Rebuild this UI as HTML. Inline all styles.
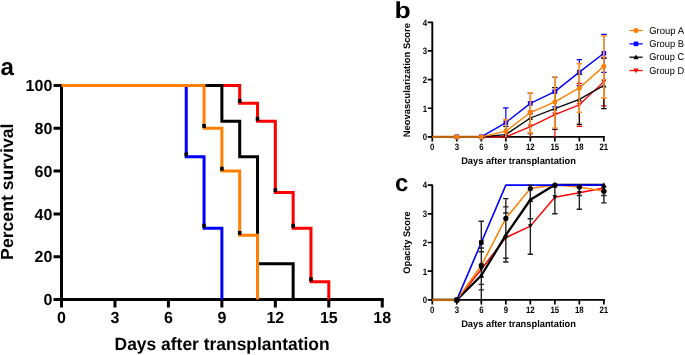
<!DOCTYPE html>
<html><head><meta charset="utf-8"><style>
html,body{margin:0;padding:0;background:#fff;width:685px;height:355px;overflow:hidden}
svg{display:block;will-change:transform}
text{font-family:"Liberation Sans", sans-serif;fill:#000;text-rendering:geometricPrecision}
</style></head><body>
<svg width="685" height="355" viewBox="0 0 685 355">
<text x="0.6" y="75" font-size="24.2" font-weight="bold">a</text>
<text transform="translate(13.2,191.75) rotate(-90)" text-anchor="middle" font-size="17.5" font-weight="bold" textLength="136.3" lengthAdjust="spacingAndGlyphs">Percent survival</text>
<text x="222.1" y="349.8" text-anchor="middle" font-size="17.8" font-weight="bold" textLength="215" lengthAdjust="spacingAndGlyphs">Days after transplantation</text>
<path d="M61.5 84V299.5H383.76" fill="none" stroke="#000" stroke-width="3"/>
<text x="52.3" y="305.2" text-anchor="end" font-size="16" font-weight="bold">0</text>
<text x="52.3" y="262.4" text-anchor="end" font-size="16" font-weight="bold">20</text>
<text x="52.3" y="219.6" text-anchor="end" font-size="16" font-weight="bold">40</text>
<text x="52.3" y="176.8" text-anchor="end" font-size="16" font-weight="bold">60</text>
<text x="52.3" y="134" text-anchor="end" font-size="16" font-weight="bold">80</text>
<text x="52.3" y="91.2" text-anchor="end" font-size="16" font-weight="bold">100</text>
<text x="61.5" y="323.1" text-anchor="middle" font-size="16" font-weight="bold">0</text>
<text x="114.96" y="323.1" text-anchor="middle" font-size="16" font-weight="bold">3</text>
<text x="168.42" y="323.1" text-anchor="middle" font-size="16" font-weight="bold">6</text>
<text x="221.88" y="323.1" text-anchor="middle" font-size="16" font-weight="bold">9</text>
<text x="275.34" y="323.1" text-anchor="middle" font-size="16" font-weight="bold">12</text>
<text x="328.8" y="323.1" text-anchor="middle" font-size="16" font-weight="bold">15</text>
<text x="382.26" y="323.1" text-anchor="middle" font-size="16" font-weight="bold">18</text>
<path d="M53.5 299.5H61.5M53.5 256.7H61.5M53.5 213.9H61.5M53.5 171.1H61.5M53.5 128.3H61.5M53.5 85.5H61.5M61.5 299.5V307.5M114.96 299.5V307.5M168.42 299.5V307.5M221.88 299.5V307.5M275.34 299.5V307.5M328.8 299.5V307.5M382.26 299.5V307.5" stroke="#000" stroke-width="3"/>
<path d="M61.5 85.5H239.7V103.33H257.52V121.17H275.34V192.5H293.16V228.17H310.98V281.67H328.8V299.5" fill="none" stroke="#ff0000" stroke-width="3" stroke-linejoin="miter"/><rect x="237.9" y="98.93" width="3.6" height="4" fill="#000"/><rect x="255.72" y="116.77" width="3.6" height="4" fill="#000"/><rect x="273.54" y="188.1" width="3.6" height="4" fill="#000"/><rect x="291.36" y="223.77" width="3.6" height="4" fill="#000"/><rect x="309.18" y="277.27" width="3.6" height="4" fill="#000"/>
<path d="M61.5 85.5H221.88V121.17H239.7V156.83H257.52V263.83H293.16V299.5" fill="none" stroke="#000" stroke-width="3" stroke-linejoin="miter"/>
<path d="M61.5 85.5H186.24V156.83H204.06V228.17H221.88V299.5" fill="none" stroke="#0000ff" stroke-width="3" stroke-linejoin="miter"/><rect x="184.44" y="152.43" width="3.6" height="4" fill="#000"/><rect x="202.26" y="223.77" width="3.6" height="4" fill="#000"/>
<path d="M61.5 85.5H204.06V128.3H221.88V171.1H239.7V235.3H257.52V299.5" fill="none" stroke="#ff8000" stroke-width="3" stroke-linejoin="miter"/><rect x="202.26" y="123.9" width="3.6" height="4" fill="#000"/><rect x="220.08" y="166.7" width="3.6" height="4" fill="#000"/><rect x="237.9" y="230.9" width="3.6" height="4" fill="#000"/>
<text transform="translate(394.6,18) scale(1.15,1)" font-size="23" font-weight="bold">b</text>
<text transform="translate(409.5,80.1) rotate(-90)" text-anchor="middle" font-size="9.5" font-weight="bold" textLength="114.1" lengthAdjust="spacingAndGlyphs">Neovascularization Score</text>
<text x="518.5" y="163.8" text-anchor="middle" font-size="9.6" font-weight="bold" textLength="114.7" lengthAdjust="spacingAndGlyphs">Days after transplantation</text>
<path d="M432.3 21.7V136.9H604.82" fill="none" stroke="#000" stroke-width="1.9"/><text transform="translate(427.1,140.2) scale(0.85,1)" text-anchor="end" font-size="9.2" font-weight="bold">0</text><text transform="translate(427.1,111.55) scale(0.85,1)" text-anchor="end" font-size="9.2" font-weight="bold">1</text><text transform="translate(427.1,82.9) scale(0.85,1)" text-anchor="end" font-size="9.2" font-weight="bold">2</text><text transform="translate(427.1,54.25) scale(0.85,1)" text-anchor="end" font-size="9.2" font-weight="bold">3</text><text transform="translate(427.1,25.6) scale(0.85,1)" text-anchor="end" font-size="9.2" font-weight="bold">4</text><text transform="translate(432.3,149.9) scale(0.85,1)" text-anchor="middle" font-size="9.2" font-weight="bold">0</text><text transform="translate(456.81,149.9) scale(0.85,1)" text-anchor="middle" font-size="9.2" font-weight="bold">3</text><text transform="translate(481.32,149.9) scale(0.85,1)" text-anchor="middle" font-size="9.2" font-weight="bold">6</text><text transform="translate(505.83,149.9) scale(0.85,1)" text-anchor="middle" font-size="9.2" font-weight="bold">9</text><text transform="translate(530.34,149.9) scale(0.85,1)" text-anchor="middle" font-size="9.2" font-weight="bold">12</text><text transform="translate(554.85,149.9) scale(0.85,1)" text-anchor="middle" font-size="9.2" font-weight="bold">15</text><text transform="translate(579.36,149.9) scale(0.85,1)" text-anchor="middle" font-size="9.2" font-weight="bold">18</text><text transform="translate(603.87,149.9) scale(0.85,1)" text-anchor="middle" font-size="9.2" font-weight="bold">21</text><path d="M427.7 136.9H432.3M427.7 108.25H432.3M427.7 79.6H432.3M427.7 50.95H432.3M427.7 22.3H432.3M432.3 136.9V141.5M456.81 136.9V141.5M481.32 136.9V141.5M505.83 136.9V141.5M530.34 136.9V141.5M554.85 136.9V141.5M579.36 136.9V141.5M603.87 136.9V141.5" stroke="#000" stroke-width="1.7"/>
<path d="M530.34 111.12V136.9M527.64 111.12h5.4" stroke="#ff0000" stroke-width="1.2" fill="none" opacity="1.0"/>
<path d="M554.85 91.06V136.9M552.15 91.06h5.4" stroke="#ff0000" stroke-width="1.2" fill="none" opacity="1.0"/>
<path d="M579.36 83.32V126.3M576.66 83.32h5.4M576.66 126.3h5.4" stroke="#ff0000" stroke-width="1.2" fill="none" opacity="1.0"/>
<path d="M603.87 57.25V105.96M601.17 57.25h5.4M601.17 105.96h5.4" stroke="#ff0000" stroke-width="1.2" fill="none" opacity="1.0"/>
<polyline points="432.3,136.9 456.81,136.9 481.32,136.9 505.83,136.9 530.34,126.59 554.85,114.55 579.36,104.81 603.87,81.61" fill="none" stroke="#ff0000" stroke-width="1.3" stroke-linejoin="round"/>
<path d="M456.81 139.5L459.41 134.82L454.21 134.82Z" fill="#ff0000"/>
<path d="M481.32 139.5L483.92 134.82L478.72 134.82Z" fill="#ff0000"/>
<path d="M505.83 139.5L508.43 134.82L503.23 134.82Z" fill="#ff0000"/>
<path d="M530.34 129.19L532.94 124.51L527.74 124.51Z" fill="#ff0000"/>
<path d="M554.85 117.15L557.45 112.47L552.25 112.47Z" fill="#ff0000"/>
<path d="M579.36 107.41L581.96 102.73L576.76 102.73Z" fill="#ff0000"/>
<path d="M603.87 84.21L606.47 79.53L601.27 79.53Z" fill="#ff0000"/>
<path d="M505.83 126.3V136.9M503.13 126.3h5.4" stroke="#000" stroke-width="1.2" fill="none" opacity="1.0"/>
<path d="M530.34 102.23V133.75M527.64 102.23h5.4M527.64 133.75h5.4" stroke="#000" stroke-width="1.2" fill="none" opacity="1.0"/>
<path d="M554.85 87.62V129.45M552.15 87.62h5.4M552.15 129.45h5.4" stroke="#000" stroke-width="1.2" fill="none" opacity="1.0"/>
<path d="M579.36 74.44V124.29M576.66 74.44h5.4M576.66 124.29h5.4" stroke="#000" stroke-width="1.2" fill="none" opacity="1.0"/>
<path d="M603.87 58.4V108.54M601.17 58.4h5.4M601.17 108.54h5.4" stroke="#000" stroke-width="1.2" fill="none" opacity="1.0"/>
<polyline points="432.3,136.9 456.81,136.9 481.32,136.9 505.83,134.61 530.34,117.99 554.85,108.54 579.36,99.37 603.87,85.33" fill="none" stroke="#000" stroke-width="1.3" stroke-linejoin="round"/>
<path d="M456.81 134.3L459.41 138.98L454.21 138.98Z" fill="#000"/>
<path d="M481.32 134.3L483.92 138.98L478.72 138.98Z" fill="#000"/>
<path d="M505.83 132.01L508.43 136.69L503.23 136.69Z" fill="#000"/>
<path d="M530.34 115.39L532.94 120.07L527.74 120.07Z" fill="#000"/>
<path d="M554.85 105.94L557.45 110.62L552.25 110.62Z" fill="#000"/>
<path d="M579.36 96.77L581.96 101.45L576.76 101.45Z" fill="#000"/>
<path d="M603.87 82.73L606.47 87.41L601.27 87.41Z" fill="#000"/>
<path d="M505.83 107.96V136.9M503.13 107.96h5.4" stroke="#0000ff" stroke-width="1.2" fill="none" opacity="1.0"/>
<path d="M530.34 93.07V113.69M527.64 93.07h5.4M527.64 113.69h5.4" stroke="#0000ff" stroke-width="1.2" fill="none" opacity="1.0"/>
<path d="M554.85 77.31V106.82M552.15 77.31h5.4M552.15 106.82h5.4" stroke="#0000ff" stroke-width="1.2" fill="none" opacity="1.0"/>
<path d="M579.36 59.55V85.62M576.66 59.55h5.4M576.66 85.62h5.4" stroke="#0000ff" stroke-width="1.2" fill="none" opacity="1.0"/>
<path d="M603.87 34.33V72.44M601.17 34.33h5.4M601.17 72.44h5.4" stroke="#0000ff" stroke-width="1.2" fill="none" opacity="1.0"/>
<polyline points="432.3,136.9 456.81,136.9 481.32,136.9 505.83,122.58 530.34,103.38 554.85,91.63 579.36,72.15 603.87,53.24" fill="none" stroke="#0000ff" stroke-width="1.4" stroke-linejoin="round"/>
<rect x="454.51" y="134.6" width="4.6" height="4.6" fill="#0000ff"/>
<rect x="479.02" y="134.6" width="4.6" height="4.6" fill="#0000ff"/>
<rect x="503.53" y="120.28" width="4.6" height="4.6" fill="#0000ff"/>
<rect x="528.04" y="101.08" width="4.6" height="4.6" fill="#0000ff"/>
<rect x="552.55" y="89.33" width="4.6" height="4.6" fill="#0000ff"/>
<rect x="577.06" y="69.85" width="4.6" height="4.6" fill="#0000ff"/>
<rect x="601.57" y="50.94" width="4.6" height="4.6" fill="#0000ff"/>
<path d="M505.83 119.71V136.9M503.13 119.71h5.4" stroke="#ff9428" stroke-width="1.7" fill="none" opacity="1.0"/>
<path d="M530.34 92.78V132.89M527.64 92.78h5.4M527.64 132.89h5.4" stroke="#ff9428" stroke-width="1.7" fill="none" opacity="1.0"/>
<path d="M554.85 77.02V128.02M552.15 77.02h5.4M552.15 128.02h5.4" stroke="#ff9428" stroke-width="1.7" fill="none" opacity="1.0"/>
<path d="M579.36 63.56V112.26M576.66 63.56h5.4M576.66 112.26h5.4" stroke="#ff9428" stroke-width="1.7" fill="none" opacity="1.0"/>
<path d="M603.87 35.77V97.94M601.17 35.77h5.4M601.17 97.94h5.4" stroke="#ff9428" stroke-width="1.7" fill="none" opacity="1.0"/>
<polyline points="432.3,136.9 456.81,136.9 481.32,136.9 505.83,131.17 530.34,112.55 554.85,101.95 579.36,87.91 603.87,66.13" fill="none" stroke="#ff8000" stroke-width="1.4" stroke-linejoin="round"/>
<path d="M432.3 136.9H481.32" stroke="#b8640f" stroke-width="2.3"/>
<circle cx="456.81" cy="136.9" r="2.5" fill="#ff8000"/>
<circle cx="481.32" cy="136.9" r="2.5" fill="#ff8000"/>
<circle cx="505.83" cy="131.17" r="2.5" fill="#ff8000"/>
<circle cx="530.34" cy="112.55" r="2.5" fill="#ff8000"/>
<circle cx="554.85" cy="101.95" r="2.5" fill="#ff8000"/>
<circle cx="579.36" cy="87.91" r="2.5" fill="#ff8000"/>
<circle cx="603.87" cy="66.13" r="2.5" fill="#ff8000"/>
<path d="M629.5 30.5H642.6" stroke="#ff8000" stroke-width="1.3"/>
<circle cx="636" cy="30.5" r="2.5" fill="#ff8000"/>
<text x="649.2" y="33.5" font-size="9.9" fill="#222" textLength="34.9" lengthAdjust="spacingAndGlyphs">Group A</text>
<path d="M629.5 43.85H642.6" stroke="#0000ff" stroke-width="1.3"/>
<rect x="633.7" y="41.55" width="4.6" height="4.6" fill="#0000ff"/>
<text x="649.2" y="46.85" font-size="9.9" fill="#222" textLength="34.9" lengthAdjust="spacingAndGlyphs">Group B</text>
<path d="M629.5 57.2H642.6" stroke="#000" stroke-width="1.3"/>
<path d="M636 54.6L638.6 59.28L633.4 59.28Z" fill="#000"/>
<text x="649.2" y="60.2" font-size="9.9" fill="#222" textLength="34.9" lengthAdjust="spacingAndGlyphs">Group C</text>
<path d="M629.5 70.55H642.6" stroke="#ff0000" stroke-width="1.3"/>
<path d="M636 73.15L638.6 68.47L633.4 68.47Z" fill="#ff0000"/>
<text x="649.2" y="73.55" font-size="9.9" fill="#222" textLength="34.9" lengthAdjust="spacingAndGlyphs">Group D</text>
<text x="395" y="190.8" font-size="24" font-weight="bold">c</text>
<text transform="translate(409.7,242.5) rotate(-90)" text-anchor="middle" font-size="9.5" font-weight="bold" textLength="62.3" lengthAdjust="spacingAndGlyphs">Opacity Score</text>
<text x="518.55" y="326.8" text-anchor="middle" font-size="9.6" font-weight="bold" textLength="114.8" lengthAdjust="spacingAndGlyphs">Days after transplantation</text>
<path d="M432.3 184.5V299.9H604.82" fill="none" stroke="#000" stroke-width="1.9"/><text transform="translate(427.1,303.2) scale(0.85,1)" text-anchor="end" font-size="9.2" font-weight="bold">0</text><text transform="translate(427.1,274.5) scale(0.85,1)" text-anchor="end" font-size="9.2" font-weight="bold">1</text><text transform="translate(427.1,245.8) scale(0.85,1)" text-anchor="end" font-size="9.2" font-weight="bold">2</text><text transform="translate(427.1,217.1) scale(0.85,1)" text-anchor="end" font-size="9.2" font-weight="bold">3</text><text transform="translate(427.1,188.4) scale(0.85,1)" text-anchor="end" font-size="9.2" font-weight="bold">4</text><text transform="translate(432.3,312.9) scale(0.85,1)" text-anchor="middle" font-size="9.2" font-weight="bold">0</text><text transform="translate(456.81,312.9) scale(0.85,1)" text-anchor="middle" font-size="9.2" font-weight="bold">3</text><text transform="translate(481.32,312.9) scale(0.85,1)" text-anchor="middle" font-size="9.2" font-weight="bold">6</text><text transform="translate(505.83,312.9) scale(0.85,1)" text-anchor="middle" font-size="9.2" font-weight="bold">9</text><text transform="translate(530.34,312.9) scale(0.85,1)" text-anchor="middle" font-size="9.2" font-weight="bold">12</text><text transform="translate(554.85,312.9) scale(0.85,1)" text-anchor="middle" font-size="9.2" font-weight="bold">15</text><text transform="translate(579.36,312.9) scale(0.85,1)" text-anchor="middle" font-size="9.2" font-weight="bold">18</text><text transform="translate(603.87,312.9) scale(0.85,1)" text-anchor="middle" font-size="9.2" font-weight="bold">21</text><path d="M427.7 299.9H432.3M427.7 271.2H432.3M427.7 242.5H432.3M427.7 213.8H432.3M427.7 185.1H432.3M432.3 299.9V304.5M456.81 299.9V304.5M481.32 299.9V304.5M505.83 299.9V304.5M530.34 299.9V304.5M554.85 299.9V304.5M579.36 299.9V304.5M603.87 299.9V304.5" stroke="#000" stroke-width="1.7"/>
<polyline points="432.3,299.9 456.81,299.9 481.32,269.19 505.83,237.62 530.34,226.14 554.85,197.15 579.36,192.85 603.87,187.97" fill="none" stroke="#ff0000" stroke-width="1.5" stroke-linejoin="round"/>
<polyline points="432.3,299.9 456.81,299.9 481.32,275.5 505.83,235.04 530.34,199.74 554.85,184.81 579.36,184.81 603.87,184.81" fill="none" stroke="#000" stroke-width="2.3" stroke-linejoin="round"/>
<polyline points="432.3,299.9 456.81,299.9 481.32,265.46 505.83,218.39 530.34,188.54 554.85,185.1 579.36,187.11 603.87,191.13" fill="none" stroke="#ff8000" stroke-width="1.5" stroke-linejoin="round"/>
<polyline points="456.81,299.9 481.32,242.5 505.83,185.1 530.34,185.1 554.85,185.1 579.36,185.1 603.87,185.1" fill="none" stroke="#0000ff" stroke-width="1.6" stroke-linejoin="round"/>
<path d="M432.3 299.9H456.81" stroke="#b8640f" stroke-width="2.3"/>
<path d="M481.32 221.26V299.9M478.62 221.26h5.4" stroke="#222" stroke-width="1.4" fill="none" opacity="1.0"/>
<path d="M505.83 198.59V262.02M503.13 198.59h5.4M503.13 262.02h5.4" stroke="#222" stroke-width="1.4" fill="none" opacity="1.0"/>
<path d="M530.34 185.1V254.27M527.64 185.1h5.4M527.64 254.27h5.4" stroke="#222" stroke-width="1.4" fill="none" opacity="1.0"/>
<path d="M554.85 185.1V213.8M552.15 185.1h5.4M552.15 213.8h5.4" stroke="#222" stroke-width="1.4" fill="none" opacity="1.0"/>
<path d="M579.36 187.4V209.21M576.66 187.4h5.4M576.66 209.21h5.4" stroke="#222" stroke-width="1.4" fill="none" opacity="1.0"/>
<path d="M603.87 191.13V202.89M601.17 191.13h5.4M601.17 202.89h5.4" stroke="#222" stroke-width="1.4" fill="none" opacity="1.0"/>
<path d="M478.62 247.95h5.4M478.62 251.68h5.4M478.62 284.4h5.4M478.62 289.85h5.4M503.13 206.91h5.4M503.13 212.94h5.4M503.13 258.28h5.4M527.64 218.68h5.4M576.66 195.43h5.4M601.17 195.43h5.4" stroke="#222" stroke-width="1.4"/>
<path d="M456.81 302.24L459.15 298.03L454.47 298.03Z" fill="#000"/>
<path d="M481.32 271.53L483.66 267.32L478.98 267.32Z" fill="#000"/>
<path d="M505.83 239.96L508.17 235.75L503.49 235.75Z" fill="#000"/>
<path d="M530.34 228.48L532.68 224.27L528 224.27Z" fill="#000"/>
<path d="M554.85 199.49L557.19 195.28L552.51 195.28Z" fill="#000"/>
<path d="M579.36 195.19L581.7 190.98L577.02 190.98Z" fill="#000"/>
<path d="M603.87 190.31L606.21 186.1L601.53 186.1Z" fill="#000"/>
<path d="M456.81 297.04L459.67 302.19L453.95 302.19Z" fill="#000"/>
<path d="M481.32 272.64L484.18 277.79L478.46 277.79Z" fill="#000"/>
<path d="M505.83 232.18L508.69 237.33L502.97 237.33Z" fill="#000"/>
<path d="M530.34 196.88L533.2 202.02L527.48 202.02Z" fill="#000"/>
<path d="M554.85 182.24L557.71 187.39L551.99 187.39Z" fill="#000"/>
<path d="M603.87 182.24L606.73 187.39L601.01 187.39Z" fill="#000"/>
<circle cx="456.81" cy="299.9" r="2.62" fill="#000"/>
<circle cx="481.32" cy="265.46" r="2.62" fill="#000"/>
<circle cx="505.83" cy="218.39" r="2.62" fill="#000"/>
<circle cx="530.34" cy="188.54" r="2.62" fill="#000"/>
<circle cx="554.85" cy="185.1" r="2.62" fill="#000"/>
<circle cx="579.36" cy="187.11" r="2.62" fill="#000"/>
<circle cx="603.87" cy="191.13" r="2.62" fill="#000"/>
<rect x="454.51" y="297.6" width="4.6" height="4.6" fill="#000"/>
<rect x="479.02" y="240.2" width="4.6" height="4.6" fill="#000"/>
</svg>
</body></html>
